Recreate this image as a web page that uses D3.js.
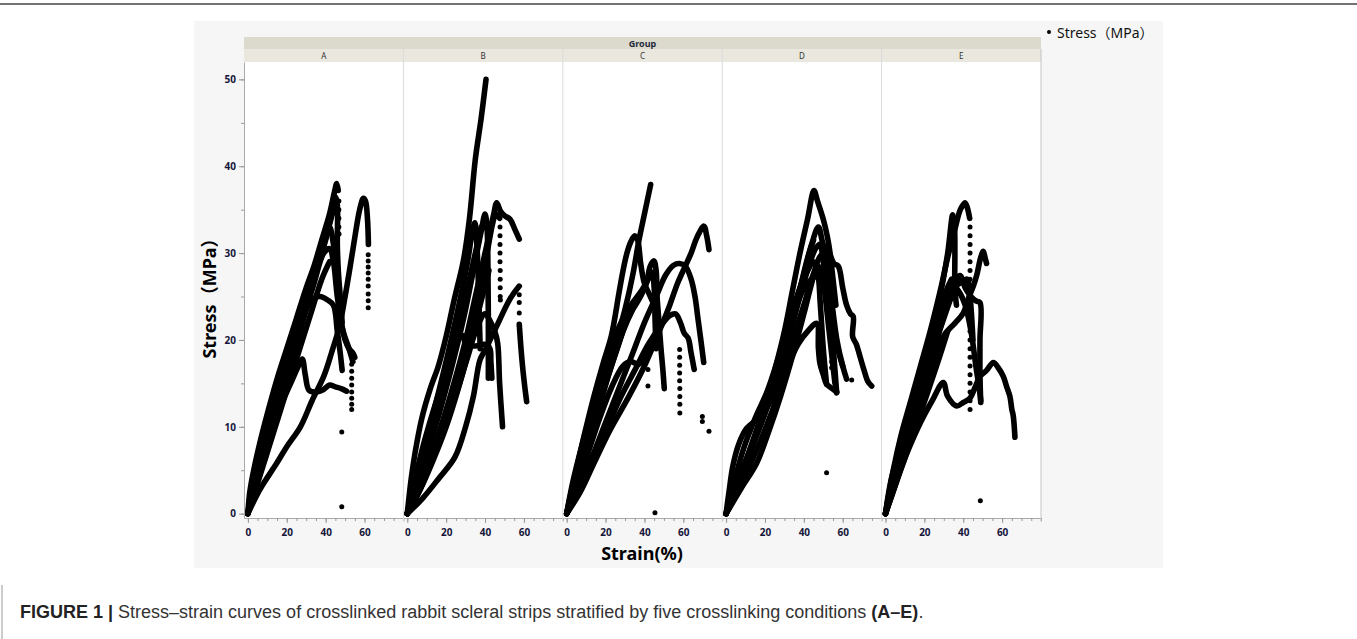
<!DOCTYPE html>
<html>
<head>
<meta charset="utf-8">
<script src="https://cdn.jsdelivr.net/npm/d3@7"></script>
<style>
  body { margin: 0; background: #fff; }
  svg { display: block; }
</style>
</head>
<body>
<div class="chart"></div>
<script>
// groups (crosslinking conditions) and axis ticks
const groups = ['A', 'B', 'C', 'D', 'E'];
const xTicks = [0, 20, 40, 60];
const yTicks = [0, 10, 20, 30, 40, 50];

// curves: [strain %, stress MPa]
const curvesA = [
  [[0,0],[1,2.5],[3,5],[6,8],[10,11.5],[15,15.5],[20,19],[25,22.5],[30,26],[34,28.5],[38,31.5],[42,34.5],[44.5,37],[45.7,38],[46.5,37.2]],
  [[0,0],[2,3],[5,6],[10,10],[15,14],[20,17.5],[25,21],[30,24.5],[35,28],[40,31.5],[43,34.5],[45,36.5],[46,35.5],[46,31],[46.5,28],[47.5,25],[48.5,22]],
  [[0,0],[3,3],[8,7],[14,11.5],[20,16],[26,20.5],[31,24],[34,24.8],[37,25],[41,24.6],[44,24],[46,21],[47.5,18.5],[48.5,16.5]],
  [[0,0],[4,3.5],[10,8],[16,12],[22,15],[26,17],[28,17.8],[29.5,16],[31.5,14.2],[35,14],[39,14.3],[42,14.8],[45,14.6],[48,14.4],[50.8,14.1]],
  [[0,0],[3,3.5],[8,7.5],[14,12],[20,16.5],[26,21],[32,25.5],[37,29.5],[40,32],[42,33],[44,31],[46,26],[48,22],[50,20],[52,19],[54,18.5],[55,18]],
  [[0,0],[4,3.5],[10,8.5],[16,13],[22,17.5],[28,22],[34,26.5],[39,30],[42,30.5],[44,29],[46,25],[49,21],[52,19],[54,17.5]],
  [[0,0],[2,2.5],[6,6],[12,10.5],[18,15],[24,19.5],[30,24],[36,28.5],[41,32.5],[44,35]],
  [[0,0],[5,3.5],[12,8.5],[19,13.5],[26,18.5],[33,23.5],[38,27],[42,29]],
  [[0,0],[6.2,2.8],[14.8,5.8],[20,7.7],[27,10],[33,13],[39,15.8],[43,18.5],[47,21.5],[50,25],[53,29],[55.5,32.5],[57.5,35],[59.4,36.3],[60.5,36],[61.5,34],[62,31]]
];
const dotsA = [[46.8,36],[46.8,35],[46.8,34],[46.8,33],[46.9,32.2],[61.9,29.8],[61.9,29.1],[61.9,28.4],[61.9,27.7],[61.9,27],[61.9,26.2],[61.9,25.3],[61.9,24.5],[61.9,23.7],
  [53.4,17.2],[53.4,16.4],[53.4,15.6],[53.4,14.8],[53.4,14],[53.4,13.3],[53.4,12.6],[53.4,12],[48.3,9.4],[48.3,0.8]];

const curvesB = [
  [[0,0],[2,4],[4,7],[7.5,11],[12,14.5],[16,17],[20,20.4],[24,24.5],[29,29.3],[32,34],[35,40.8],[38,45.5],[40.5,50]],
  [[0,0],[6,3],[12,6.5],[18,10.5],[24,15],[30,20],[35,25],[39,29],[42,32],[44.5,34.5],[46,35.8],[48,34.8],[50,34.3],[52.8,33.9],[55.4,32.7],[57.6,31.6]],
  [[0,0],[4,4],[9,8],[15,13],[21,18.5],[27,24.5],[31,29],[33.5,32.5],[34.8,33.5],[35.8,31],[36.5,27],[37,23],[37.5,19]],
  [[0,0],[5,3.5],[11,7.5],[17,12],[23,17],[29,22.5],[34,28],[38,32.5],[40,34.5],[41,33],[41.5,28],[41.7,22],[41.7,15.6]],
  [[0,0],[7,3],[14,7],[20,11],[26,15.5],[32,20.5],[37,25.5],[41,30],[44,33.5],[45.5,34.5],[47.5,34]],
  [[0,0],[4,4],[9,8.5],[15,13],[21,17],[26,20],[28.8,20.5],[30,19.5],[35,19.3],[40,19.5],[42.5,19],[43,17.5],[43.5,15.6]],
  [[0,0],[8,3.5],[16,8],[24,13],[31,18],[36,21.5],[40,23],[43,22],[45,21],[46.5,19.6],[47.5,15],[49,10]],
  [[0,0],[3,3],[8,6.5],[14,11],[20,15.5],[26,21],[31,26],[35,30],[38,33]],
  [[0,0],[6,2.5],[13,6],[20,10],[27,15],[33,20],[38,24.5],[42,28]],
  [[0,0],[8,1.8],[16,4],[24.5,6.5],[30,10],[34,13.5],[37.4,17.7],[40,18.8],[46,21.6],[52.8,24.7],[57.6,26.2]],
  [[57.6,21.8],[58.5,19],[59.5,16.5],[60.5,14.5],[61.4,12.9]]
];
const dotsB = [[47.7,33],[47.7,32],[47.7,31],[47.7,30],[47.7,29],[47.8,28],[47.8,27],[47.8,26],[47.8,25],[47.9,24.6],
  [57.6,25.2],[57.6,24.3],[57.6,23.1]];

const curvesC = [
  [[0,0],[5,4],[10,8],[15,11.5],[20,15.5],[25,19.5],[30,23.5],[34,27.5],[37.2,31.5],[40,34.5],[43.2,37.9]],
  [[0,0],[4,4],[9,9],[14,13.5],[19,17.5],[23,20.5],[26.9,25.4],[29,28],[31,30],[33,31.3],[35,32],[36.5,31.5],[37.5,30],[38,28.9],[40,26.5],[42,25.5],[44,24.5]],
  [[0,0],[7,2.5],[14,5.8],[22,9.5],[32,13.5],[40,17],[48,21.2],[53,24],[57,26.5],[61,28.5],[64,30],[67,31.8],[70.6,33.1],[72,32],[73.2,30.4]],
  [[0,0],[5,3.5],[11,8],[17,12.5],[23,17],[29,21],[34,23.5],[38,25],[41,26.5],[43,28.5],[44.9,29.1],[46,28],[46.5,25],[47.5,22],[48.4,19.3],[49.5,16.5],[50.2,14.4]],
  [[0,0],[6,3],[13,6.5],[20,10.5],[27,14.5],[34,18.5],[40,22],[46,25],[51,27.5],[55,28.6],[58,28.8],[61,28.5],[64,27],[66,25],[67.5,22.5],[69,20],[70.5,17.4]],
  [[0,0],[7,3],[14,6.5],[21,10],[28,13.5],[35,16.5],[42,19.5],[48,21.5],[53,22.8],[56,23],[58.5,22],[60.4,20.8],[62.5,20.2],[64,18.5],[65.6,16.6]],
  [[0,0],[3,3.5],[8,8],[13,12],[18,16],[23,19.5],[28,22],[33,24],[38,25.5],[42,27],[44,27.8],[45,26],[45.5,22],[46,19]],
  [[0,0],[3,3],[8,6.5],[14,11],[20,15],[26,19],[31,22.5]],
  [[0,0],[5,3],[11,7],[17,11],[23,14.5],[29,17],[33,17.5],[37,17.2],[40,18],[43,19.5]]
];
const dotsC = [[58.1,18.9],[58.1,18],[58.1,17.1],[58.1,16.2],[58.1,15.3],[58.2,14.4],[58.2,13.5],[58.2,12.6],[58.2,11.6],
  [41.8,16.6],[41.8,14.7],[47.5,19.8],[69.8,11.2],[69.8,10.6],[73.2,9.5],[45.4,0.1]];

const curvesD = [
  [[0,0],[5,3],[10,6],[15,9],[20,12.5],[25,16.5],[30,21],[34,25.5],[38,30],[42,34],[45.2,37.2],[47,36],[50,33.9],[52,32],[53.5,30],[55,27],[56.5,24]],
  [[0,0],[6,3.3],[12,7],[18,10.5],[24,14.5],[30,19],[35,23.5],[40,27.5],[44,31],[47.5,33],[50,31],[53,30],[55.5,28.8],[57.7,28.5],[60,26],[62,24],[64,23],[65.4,22.7],[65.1,20.4],[67,19.5],[69,18],[71,16.5],[73,15.2],[74.9,14.7]],
  [[0,0],[7,3.8],[14,8],[20,11.5],[26,15.5],[32,20],[38,25],[43,28.8],[46,30.5],[48.3,31],[50,29],[52,26],[54,22],[55.5,18],[56.9,13.9]],
  [[0,0],[4,3.5],[9,7.5],[15,11],[21,14],[27,18],[33,22.5],[38,26],[42,28],[45,29],[47,28],[48.5,24],[50,19],[51.7,14.9]],
  [[0,0],[8,3.5],[16,7.5],[24,12],[31,16.5],[37,19.5],[42,21],[46.6,21.9],[47.5,19],[48.3,17.3],[50,16],[51.7,14.9],[54,14.5],[56.9,14]],
  [[0,0],[6,3],[13,7.5],[20,12],[27,17],[33,21.5],[39,25.5],[44,27],[48,27.5],[50,27.5],[52,26.5],[54,24],[56,21],[58,18.5],[60,17]],
  [[0,0],[4,2.5],[10,6],[17,10.5],[24,15],[31,20],[37,25],[42,29.5],[45,31.5]],
  [[0,0],[1.5,2.5],[3.5,5.5],[6.5,8],[10.5,9.8],[15,10.7],[19,11.5],[24,13.5],[30,17],[35,20.5],[40,24],[44,27],[47,28.5],[49,28],[51,25],[53,21],[55,17],[56,15]],
  [[0,0],[8,3],[15.7,5.8],[22,9.5],[28,13.5],[34,18],[40,23],[44,26.5],[48,29.5],[50.5,30],[52,28],[54,25],[57,20],[60,17],[62,15.5]]
];
const dotsD = [[51.7,4.7],[54.3,17.5],[54.3,16.8],[64.6,15.4]];

const curvesE = [
  [[0,0],[4,5],[8,9],[13,13],[18,17],[23,21],[28,25.5],[32,29.5],[36,33],[38.5,35],[40.9,35.8],[42,35.3],[43.3,34]],
  [[0,0],[5,4.5],[10,9],[16,14],[22,19.5],[28,25],[32,30],[34.6,34.4],[35.5,33],[35.7,30],[35.7,26],[36.5,24]],
  [[0,0],[6,4],[12,8.5],[18,13],[24,17],[30,20.5],[36,22],[40,23.1],[43,25],[45.2,26.2],[47,27.5],[49,29.5],[50.3,30.2],[51.2,29.5],[52,28.8]],
  [[0,0],[6,4],[12,7.5],[18,10.5],[24,13],[29.7,15.1],[32,13.5],[36.6,12.4],[40,12.8],[43.5,13.3],[46,14.5],[48.6,15.8],[52,16.5],[55.5,17.4],[58,16.8],[60.6,15.8],[62.5,14.5],[64,13.5],[65,12],[65.7,11.3],[66.6,8.8]],
  [[0,0],[5,4],[11,8.5],[17,13],[23,17.5],[29,22],[34,25.5],[38.3,27.4],[41,26],[44,25],[46.5,24.5],[48.6,24.3],[48.6,20],[48.6,16],[49,12.8]],
  [[0,0],[4,4.5],[9,8.5],[15,13],[21,17.5],[27,22],[33,25.5],[38,26.5],[40,26.8],[42,27],[43.5,25],[44.5,22],[45,20]],
  [[0,0],[3,4],[8,8],[14,12.5],[20,17],[26,21.5],[31,25.5],[34,27]],
  [[0,0],[7,4.5],[14,9],[21,13.5],[27,17.5],[32,21]],
  [[0,0],[6,5],[12,9.5],[18,14],[24,18.5],[30,22.5],[34,25],[36,26],[38,25.5],[41,24],[44,21],[46.5,17],[48.5,14],[49,13]]
];
const dotsE = [[43.5,33],[43.5,32],[43.5,31],[43.5,30],[43.5,29],[43.5,28],[43.5,27],[43.5,26],[43.5,25],[43.5,24],[43.5,23],
  [43.5,22],[43.5,21],[43.5,20],[43.5,19],[43.5,18],[43.5,17],[43.5,16],[43.5,15],[43.5,14],[43.5,13],[43.5,12],[48.8,1.5]];

const curves = {A: curvesA, B: curvesB, C: curvesC, D: curvesD, E: curvesE};
const dots = {A: dotsA, B: dotsB, C: dotsC, D: dotsD, E: dotsE};

const W = 1357, H = 639;
const plot = {left: 244, right: 1041, top: 62, bottom: 518};
const font = "'Noto Sans', 'Open Sans', 'Noto Sans CJK SC', sans-serif";

const svg = d3.select('.chart').append('svg')
    .attr('width', W)
    .attr('height', H);

// frame bits
svg.append('line').attr('x1', 0).attr('x2', W).attr('y1', 4).attr('y2', 4)
    .attr('stroke', '#444').attr('stroke-width', 1.5);
svg.append('line').attr('x1', 2).attr('x2', 2).attr('y1', 585).attr('y2', H)
    .attr('stroke', '#999').attr('stroke-width', 1);
svg.append('rect').attr('x', 194).attr('y', 21).attr('width', 969).attr('height', 547)
    .attr('fill', '#f6f6f6');

const panel = d3.scaleBand().domain(groups).range([plot.left, plot.right]);
const bw = panel.bandwidth();

const x = d3.scaleLinear().domain([-2, 80]).range([0, bw]);
const y = d3.scaleLinear().domain([-0.5, 52]).range([plot.bottom, plot.top]);

// header bands
svg.append('rect').attr('x', plot.left).attr('y', 37).attr('width', plot.right - plot.left).attr('height', 12)
    .attr('fill', '#dcdacd');
svg.append('text').attr('x', (plot.left + plot.right) / 2).attr('y', 46.5)
    .attr('text-anchor', 'middle').attr('font-family', font).attr('font-size', 9)
    .attr('font-weight', 'bold').attr('fill', '#1e2a3a').text('Group');

const cell = svg.selectAll('.cell')
    .data(groups)
    .enter()
    .append('g')
    .attr('class', 'cell')
    .attr('transform', d => 'translate(' + panel(d) + ',0)');

cell.append('rect').attr('y', 49).attr('width', bw).attr('height', 13).attr('fill', '#e9e7de');
cell.append('rect').attr('y', plot.top).attr('width', bw).attr('height', plot.bottom - plot.top).attr('fill', '#fff');
cell.append('text').attr('x', bw / 2).attr('y', 58.5).attr('text-anchor', 'middle')
    .attr('font-family', font).attr('font-size', 8).attr('fill', '#333').text(d => d);

// panel separators
svg.selectAll('.sep')
    .data(groups.slice(1))
    .enter()
    .append('line')
    .attr('x1', d => panel(d)).attr('x2', d => panel(d))
    .attr('y1', 49).attr('y2', plot.bottom + 4)
    .attr('stroke', '#dadada').attr('stroke-width', 1);
svg.append('line').attr('x1', plot.right).attr('x2', plot.right).attr('y1', 49).attr('y2', plot.bottom + 4)
    .attr('stroke', '#c4c4c4').attr('stroke-width', 1);

// curves and dots
const line = d3.line()
    .x(d => x(d[0]))
    .y(d => y(d[1]))
    .curve(d3.curveCatmullRom.alpha(0.5));

cell.each(function(g) {
    const c = d3.select(this);
    c.selectAll('path.curve')
        .data(curves[g])
        .enter()
        .append('path')
        .attr('class', 'curve')
        .attr('d', line)
        .attr('fill', 'none')
        .attr('stroke', '#000')
        .attr('stroke-width', 5.6)
        .attr('stroke-linejoin', 'round')
        .attr('stroke-linecap', 'round');
    c.selectAll('circle')
        .data(dots[g])
        .enter()
        .append('circle')
        .attr('cx', d => x(d[0]))
        .attr('cy', d => y(d[1]))
        .attr('r', 2.5)
        .attr('fill', '#000');
});

// x axes
cell.append('g')
    .attr('transform', 'translate(0,' + plot.bottom + ')')
    .call(d3.axisBottom(x).tickValues(d3.range(0, 81, 5)).tickSize(3).tickFormat('').tickSizeOuter(0))
    .call(a => a.select('.domain').attr('stroke', '#aaa'))
    .call(a => a.selectAll('.tick line').attr('stroke', '#999'));
cell.append('g')
    .attr('transform', 'translate(0,' + plot.bottom + ')')
    .call(d3.axisBottom(x).tickValues(xTicks).tickSize(5).tickSizeOuter(0))
    .call(a => a.select('.domain').remove())
    .call(a => a.selectAll('.tick line').attr('stroke', '#999'))
    .call(a => a.selectAll('.tick text').attr('font-family', font).attr('font-size', 10)
        .attr('font-weight', 'bold').attr('fill', '#15153a').attr('dy', '0.95em'));

// y axis
svg.append('g')
    .attr('transform', 'translate(' + plot.left + ',0)')
    .call(d3.axisLeft(y).tickValues(d3.range(0, 51, 5)).tickSize(3).tickFormat('').tickSizeOuter(0))
    .call(a => a.select('.domain').attr('stroke', '#aaa'))
    .call(a => a.selectAll('.tick line').attr('stroke', '#999'));
svg.append('g')
    .attr('transform', 'translate(' + plot.left + ',0)')
    .call(d3.axisLeft(y).tickValues(yTicks).tickSize(5).tickSizeOuter(0))
    .call(a => a.select('.domain').remove())
    .call(a => a.selectAll('.tick line').attr('stroke', '#999'))
    .call(a => a.selectAll('.tick text').attr('font-family', font).attr('font-size', 10)
        .attr('font-weight', 'bold').attr('fill', '#15153a'));

// axis titles
svg.append('text')
    .attr('transform', 'translate(216,' + 294 + ') rotate(-90)')
    .attr('text-anchor', 'middle')
    .attr('font-family', font).attr('font-size', 18).attr('font-weight', 'bold').attr('fill', '#000')
    .text('Stress（MPa）');
svg.append('text')
    .attr('x', 642).attr('y', 560)
    .attr('text-anchor', 'middle')
    .attr('font-family', font).attr('font-size', 18).attr('font-weight', 'bold').attr('fill', '#000')
    .text('Strain(%)');

// legend
svg.append('circle').attr('cx', 1049).attr('cy', 32).attr('r', 2).attr('fill', '#000');
svg.append('text').attr('x', 1057).attr('y', 38)
    .attr('font-family', font).attr('font-size', 14).attr('fill', '#111')
    .text('Stress（MPa）');

// caption
const cap = svg.append('text').attr('x', 20).attr('y', 618)
    .attr('font-family', "'Liberation Sans', Arial, sans-serif").attr('font-size', 18).attr('fill', '#333');
cap.append('tspan').attr('font-weight', 'bold').attr('fill', '#222').text('FIGURE 1 | ');
cap.append('tspan').text('Stress–strain curves of crosslinked rabbit scleral strips stratified by five crosslinking conditions ');
cap.append('tspan').attr('font-weight', 'bold').attr('fill', '#222').text('(A–E)');
cap.append('tspan').text('.');
</script>
</body>
</html>
